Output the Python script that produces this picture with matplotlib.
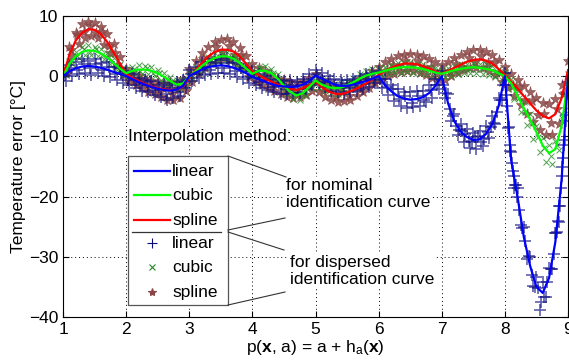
import numpy as np
import matplotlib
matplotlib.use("Agg")
import matplotlib.pyplot as plt
from matplotlib.lines import Line2D
from matplotlib.patches import Rectangle

plt.rcParams['font.family'] = ['Liberation Sans', 'DejaVu Sans']
plt.rcParams['mathtext.fontset'] = 'custom'
plt.rcParams['mathtext.rm'] = 'Liberation Sans'
plt.rcParams['mathtext.it'] = 'Liberation Sans'
plt.rcParams['mathtext.bf'] = 'Liberation Sans:bold'

# nominal identification curve, x = 1.0 .. 9.0 step 0.1
x_nom = np.round(np.arange(1.0, 9.01, 0.1), 3)

lin_nom = [0.0, 0.8, 1.3, 1.6, 1.7, 1.6, 1.4, 1.1, 0.7, 0.4,
           0.0, -0.5, -1.0, -1.4, -1.8, -2.1, -2.3, -2.4, -2.2, -1.6,
           0.0, 0.6, 1.1, 1.5, 1.7, 1.8, 1.7, 1.4, 1.0, 0.5,
           -0.1, -0.5, -0.9, -1.3, -1.6, -1.7, -1.8, -1.7, -1.4, -0.8,
           0.1, -0.4, -0.9, -1.4, -1.6, -1.6, -1.4, -1.1, -0.8, -0.4,
           0.0, -1.5, -2.5, -3.3, -3.7, -3.9, -3.8, -3.5, -2.8, -1.6,
           0.0, -4.5, -7.5, -9.2, -10.1, -10.6, -10.5, -9.6, -8.0, -5.0,
           0.0, -14.0, -20.0, -26.7, -31.5, -35.0, -36.0, -33.5, -27.5, -17.0,
           0.0]

cub_nom = [0.0, 2.0, 3.3, 4.0, 4.3, 4.2, 3.8, 3.1, 2.2, 1.3,
           0.5, 0.9, 1.1, 1.1, 0.9, 0.5, -0.1, -0.8, -1.4, -1.2,
           -0.1, 0.8, 1.7, 2.5, 3.0, 3.3, 3.3, 2.9, 2.2, 1.3,
           0.4, 0.9, 0.9, 0.5, -0.4, -1.6, -2.6, -3.2, -2.8, -1.8,
           -0.7, -1.4, -1.8, -2.0, -1.9, -1.5, -1.0, -0.4, 0.1, 0.4,
           0.6, 0.9, 1.2, 1.4, 1.5, 1.5, 1.4, 1.2, 0.9, 0.6,
           0.4, 0.7, 1.0, 1.2, 1.4, 1.5, 1.4, 1.2, 1.0, 0.5,
           0.0, -1.2, -3.3, -5.3, -7.2, -9.3, -11.5, -12.8, -12.1, -8.2,
           -0.5]

spl_nom = [0.0, 3.5, 5.9, 7.2, 7.8, 7.7, 7.0, 5.7, 4.0, 2.1,
           0.4, -0.3, -0.8, -1.3, -1.7, -2.0, -2.2, -2.3, -2.2, -1.7,
           -0.3, 1.0, 2.2, 3.3, 4.0, 4.4, 4.4, 4.1, 3.3, 2.1,
           0.8, 0.2, -0.4, -0.9, -1.4, -1.8, -2.1, -2.3, -2.0, -1.5,
           -0.9, -1.8, -2.5, -2.9, -3.0, -2.7, -2.3, -1.8, -1.2, -0.5,
           0.2, 0.9, 1.4, 1.8, 2.1, 2.1, 2.0, 1.7, 1.3, 0.8,
           0.4, 0.9, 1.4, 1.9, 2.4, 2.7, 2.8, 2.6, 2.1, 1.2,
           0.2, -0.9, -2.0, -3.3, -4.5, -5.7, -6.6, -7.0, -6.3, -3.6,
           1.0]

# dispersed identification curve, read as rows of points
x_a = x_nom                                        # 1.0 .. 9.0
x_b = np.round(np.arange(1.05, 8.96, 0.1), 3)      # 1.05 .. 8.95
x_c = np.round(np.arange(1.025, 8.93, 0.1), 3)     # 1.025 .. 8.925
x_d = np.round(np.arange(7.075, 8.98, 0.1), 3)     # 7.075 .. 8.975
x_e = [8.0125, 8.0375, 8.0625, 8.0875, 8.1125, 8.1375, 8.1625, 8.1875,
       8.8125, 8.8375, 8.8625, 8.8875, 8.9125, 8.9375, 8.9625, 8.9875]

lin_a = [0.5, 1.9, 2.4, 2.9, 2.5, 2.8, 2.2, 2.3, 1.5, 1.3,
         0.8, 0.4, -0.3, -0.6, -0.8, -1.4, -1.2, -1.5, -1.0, -0.7,
         1.0, 1.6, 2.3, 2.4, 2.9, 2.7, 3.0, 2.3, 2.1, 1.3,
         0.9, 0.3, 0.1, -0.5, -0.6, -0.8, -0.7, -0.9, -0.4, 0.3,
         1.0, 0.6, 0.0, -0.5, -0.7, -0.6, -0.5, 0.0, 0.3, 0.6,
         0.9, -0.4, -1.4, -2.1, -2.6, -2.7, -2.5, -2.4, -1.5, -0.5,
         0.8, -3.0, -6.2, -7.9, -8.8, -9.4, -9.1, -8.3, -6.6, -3.6,
         0.5, -12.6, -18.6, -25.0, -30.0, -33.3, -34.2, -31.8, -26.0, -16.5,
         -1.0]
lin_b = [-0.8, 0.0, 0.3, 0.5, 0.2, 0.6, 0.0, -0.1, -0.6, -1.2,
         -1.5, -1.9, -2.4, -2.7, -3.2, -3.5, -3.9, -3.6, -3.3, -1.9,
         -0.8, -0.3, 0.2, 0.4, 0.6, 0.5, 0.3, -0.1, -0.5, -1.1,
         -1.5, -2.0, -2.3, -2.6, -2.9, -3.0, -2.8, -2.8, -2.2, -1.4,
         -1.1, -1.8, -2.4, -2.6, -2.9, -2.7, -2.4, -2.1, -1.8, -1.2,
         -1.9, -3.2, -4.2, -4.9, -5.2, -5.1, -5.0, -4.3, -3.6, -2.1,
         -3.6, -7.4, -9.7, -10.9, -11.9, -12.1, -11.6, -10.2, -7.9, -4.0,
         -8.6, -18.5, -24.8, -30.4, -34.8, -38.8, -36.6, -32.0, -24.2, -10.6]
lin_c = [0.2, 1.4, 1.0, 2.1, 1.3, 2.0, 1.0, 1.5, 0.3, 0.6,
         -0.6, -0.3, -1.4, -1.0, -2.3, -1.8, -2.9, -2.0, -2.6, -0.9,
         0.4, 0.3, 1.6, 1.0, 2.2, 1.4, 2.2, 0.9, 1.4, -0.1,
         -0.3, -1.0, -0.6, -1.8, -1.2, -2.2, -1.4, -2.1, -0.9, -1.1,
         0.2, -1.0, -0.6, -1.9, -1.1, -2.0, -1.0, -1.5, -0.4, -0.7,
         -0.5, -1.8, -2.2, -3.8, -3.3, -4.4, -3.3, -4.0, -2.3, -1.4,
         -1.5, -5.4, -8.3, -9.1, -10.7, -10.1, -11.0, -9.2, -7.7, -3.9,
         -3.2, -15.8, -22.3, -27.4, -33.0, -35.2, -36.6, -32.0, -25.8, -13.6]
lin_d = [-2.8, -6.6, -9.0, -9.6, -11.0, -10.0, -10.4, -8.4, -6.0, -1.5,
         -11.5, -18.0, -25.2, -29.8, -35.0, -37.5, -34.2, -29.5, -21.5, -6.5]
lin_e = [-1.5, -5.0, -8.5, -12.5, -14.5, -16.5, -18.0, -20.0,
         -26.0, -24.0, -21.5, -18.5, -15.0, -11.5, -7.5, -3.0]

cub_a = [0.5, 2.6, 4.0, 4.8, 5.1, 4.8, 4.6, 3.8, 3.0, 2.0,
         1.2, 1.5, 1.8, 1.7, 1.6, 1.1, 0.6, -0.2, -0.7, -0.6,
         0.6, 1.5, 2.4, 3.2, 3.8, 4.0, 4.1, 3.6, 3.0, 2.0,
         1.1, 1.6, 1.7, 1.2, 0.3, -0.9, -1.9, -2.5, -2.1, -1.0,
         0.0, -0.7, -1.1, -1.3, -1.2, -0.8, -0.3, 0.3, 0.9, 1.2,
         1.3, 1.6, 1.9, 2.2, 2.2, 2.3, 2.1, 2.0, 1.6, 1.3,
         1.1, 1.4, 1.7, 2.0, 2.1, 2.2, 2.1, 2.0, 1.7, 1.2,
         0.7, -0.4, -2.4, -4.3, -6.2, -8.2, -10.3, -11.5, -10.8, -6.9,
         0.4]
cub_b = [0.3, 2.0, 3.0, 3.5, 3.6, 3.4, 2.8, 2.0, 1.1, 0.2,
         0.0, 0.3, 0.4, 0.3, 0.0, -0.6, -1.3, -2.0, -2.2, -1.5,
         -0.4, 0.5, 1.3, 2.0, 2.4, 2.5, 2.3, 1.8, 1.0, 0.1,
         0.0, 0.2, -0.1, -0.8, -1.9, -3.0, -3.8, -3.9, -3.2, -2.0,
         -1.9, -2.5, -2.8, -2.9, -2.6, -2.2, -1.5, -0.9, -0.4, -0.1,
         0.1, 0.3, 0.5, 0.6, 0.7, 0.6, 0.5, 0.3, 0.0, -0.3,
         -0.2, 0.1, 0.3, 0.5, 0.6, 0.6, 0.4, 0.2, -0.2, -0.7,
         -1.9, -3.8, -6.0, -8.1, -10.4, -12.6, -14.3, -14.6, -12.2, -5.6]
cub_c = [0.4, 2.7, 3.4, 4.5, 4.1, 4.5, 3.5, 3.2, 1.8, 1.2,
         0.5, 1.2, 0.9, 1.4, 0.6, 0.5, -0.5, -0.8, -1.7, -0.8,
         0.1, 1.2, 1.7, 2.9, 2.8, 3.6, 3.0, 3.0, 1.8, 1.2,
         0.5, 1.2, 0.7, 0.5, -0.8, -1.6, -3.0, -3.0, -2.9, -1.3,
         -1.0, -1.4, -2.1, -1.8, -2.1, -1.3, -1.1, -0.2, 0.0, 0.6,
         0.6, 1.1, 1.0, 1.6, 1.3, 1.7, 1.2, 1.3, 0.8, 0.8,
         0.4, 0.9, 0.9, 1.4, 1.2, 1.7, 1.2, 1.4, 0.7, 0.6,
         -0.4, -1.6, -3.7, -5.9, -7.6, -10.1, -12.0, -13.3, -11.4, -6.4]

spl_a = [1.0, 4.8, 7.2, 8.6, 9.0, 8.8, 8.2, 7.0, 5.4, 3.2,
         1.2, 0.6, 0.1, -0.4, -0.8, -1.0, -1.3, -1.2, -1.0, -0.5,
         1.2, 2.6, 3.8, 4.9, 5.6, 6.0, 6.2, 5.6, 4.7, 3.4,
         2.0, 1.4, 0.8, 0.2, -0.4, -0.6, -1.0, -1.1, -0.8, -0.3,
         0.3, -0.6, -1.2, -1.6, -1.8, -1.5, -1.0, -0.5, 0.1, 0.8,
         1.6, 2.4, 2.9, 3.4, 3.6, 3.7, 3.5, 3.3, 2.8, 2.3,
         1.8, 2.4, 3.0, 3.5, 4.0, 4.3, 4.4, 4.1, 3.6, 2.7,
         1.5, 0.4, -0.6, -1.6, -2.6, -3.6, -4.4, -4.6, -3.8, -1.4,
         2.5]
spl_b = [0.4, 3.3, 5.4, 6.4, 6.6, 6.3, 5.2, 3.8, 1.8, 0.2,
         -1.0, -1.5, -2.0, -2.6, -3.0, -3.5, -3.9, -4.0, -3.6, -2.5,
         -0.9, 0.3, 1.4, 2.2, 2.7, 3.0, 2.7, 2.1, 1.2, -0.2,
         -0.9, -1.4, -2.0, -2.5, -3.0, -3.4, -3.6, -3.5, -3.1, -2.4,
         -2.6, -3.5, -4.0, -4.3, -4.2, -3.9, -3.3, -2.7, -2.0, -1.2,
         -0.6, 0.0, 0.4, 0.7, 0.8, 0.8, 0.5, 0.2, -0.3, -0.7,
         -0.6, 0.0, 0.5, 1.0, 1.3, 1.4, 1.3, 0.8, 0.2, -0.9,
         -2.0, -3.3, -4.8, -6.2, -7.6, -8.9, -9.8, -9.8, -7.9, -2.8]
spl_c = [0.9, 4.4, 6.8, 7.4, 8.4, 7.2, 7.3, 5.0, 3.9, 1.2,
         0.2, -0.8, -0.6, -1.8, -1.5, -2.6, -2.0, -3.0, -2.1, -1.6,
         0.2, 1.0, 2.8, 3.0, 4.8, 4.0, 5.0, 3.6, 3.5, 1.4,
         0.6, -0.4, -0.2, -1.5, -1.1, -2.4, -1.8, -2.8, -1.7, -1.7,
         -0.8, -2.4, -2.2, -3.4, -2.6, -3.3, -1.9, -2.2, -0.8, -0.9,
         0.6, 0.8, 1.9, 1.5, 2.6, 1.8, 2.5, 1.3, 1.6, 0.4,
         0.9, 0.7, 2.0, 1.6, 3.0, 2.4, 3.3, 2.2, 2.4, 0.6,
         0.3, -1.6, -1.8, -4.0, -4.2, -6.5, -6.2, -7.8, -5.4, -3.0]

W, H = 569, 363
fig = plt.figure(figsize=(W / 100, H / 100), dpi=100)
ax = fig.add_axes([63 / W, 1 - 317 / H, 505 / W, 301 / H])

navy = '#0a0a80'
brown = '#8a4646'
dgreen = '#228822'

# dispersed points
for xs, ys in [(x_a, spl_a), (x_b, spl_b), (x_c, spl_c)]:
    ax.plot(xs, ys, ls='none', marker='*', ms=8, color=brown, alpha=0.85, mew=0.5)
for xs, ys in [(x_a, cub_a), (x_b, cub_b), (x_c, cub_c)]:
    ax.plot(xs, ys, ls='none', marker='x', ms=4, color=dgreen, alpha=0.8, mew=0.7)
for xs, ys in [(x_a, lin_a), (x_b, lin_b), (x_c, lin_c), (x_d, lin_d), (x_e, lin_e)]:
    ax.plot(xs, ys, ls='none', marker='+', ms=9, color=navy, alpha=0.65, mew=1.2)

# nominal curves
ax.plot(x_nom, spl_nom, color='#ff0000', lw=1.6)
ax.plot(x_nom, cub_nom, color='#00ff00', lw=1.6)
ax.plot(x_nom, lin_nom, color='#0000ff', lw=1.6)

ax.set_xlim(1, 9)
ax.set_ylim(-40, 10)
ax.set_xticks(range(1, 10))
ax.set_yticks([-40, -30, -20, -10, 0, 10])
ax.grid(True, ls=(0, (1, 3)), color='black', lw=0.7)
ax.tick_params(direction='in', top=True, right=True, labelsize=12.5, length=4)
for s in ax.spines.values():
    s.set_linewidth(0.8)
ax.set_ylabel('Temperature error [°C]', fontsize=12.5, labelpad=2)
ax.set_xlabel(r'p($\mathbf{x}$, a) = a + h$_a$($\mathbf{x}$)', fontsize=12.5, labelpad=1)


def fx(px):
    return px / W


def fy(py):
    return 1 - py / H


tf = fig.transFigure
bg = dict(facecolor='white', edgecolor='none', pad=0.5)
fig.text(fx(128), fy(136), 'Interpolation method:', fontsize=12.5, va='center', bbox=bg)

# legend box
fig.add_artist(Rectangle((fx(128), fy(305)), fx(228) - fx(128), fy(156) - fy(305),
                         transform=tf, facecolor='white', edgecolor='#555555', lw=0.9, zorder=5))
rows = [(171, 'linear', '#0000ff', None), (195, 'cubic', '#00ff00', None),
        (220, 'spline', '#ff0000', None), (243, 'linear', navy, '+'),
        (267, 'cubic', dgreen, 'x'), (292, 'spline', brown, '*')]
for py, lab, col, mk in rows:
    if mk is None:
        fig.add_artist(Line2D([fx(134), fx(170)], [fy(py), fy(py)], transform=tf,
                              color=col, lw=1.6, zorder=6))
    else:
        ms = {'+': 7, 'x': 4, '*': 6}[mk]
        fig.add_artist(Line2D([fx(152)], [fy(py)], transform=tf, ls='none', marker=mk,
                              ms=ms, color=col, mew=0.8, zorder=6))
    fig.text(fx(172), fy(py), lab, fontsize=12.5, va='center', zorder=7)
fig.add_artist(Line2D([fx(132), fx(221)], [fy(232), fy(232)], transform=tf,
                      color='#333333', lw=0.9, zorder=6))

# callout lines
for (x0, y0, x1, y1) in [(228, 156, 286, 177), (228, 230, 285, 218),
                         (228, 232, 284, 250), (228, 305, 285, 292)]:
    fig.add_artist(Line2D([fx(x0), fx(x1)], [fy(y0), fy(y1)], transform=tf,
                          color='#333333', lw=0.8, zorder=6))

fig.text(fx(286), fy(194), 'for nominal\nidentification curve', fontsize=12.5,
         va='center', linespacing=1.15, bbox=bg)
fig.text(fx(290), fy(271), 'for dispersed\nidentification curve', fontsize=12.5,
         va='center', linespacing=1.15, bbox=bg)

fig.savefig('out.png', dpi=100)
